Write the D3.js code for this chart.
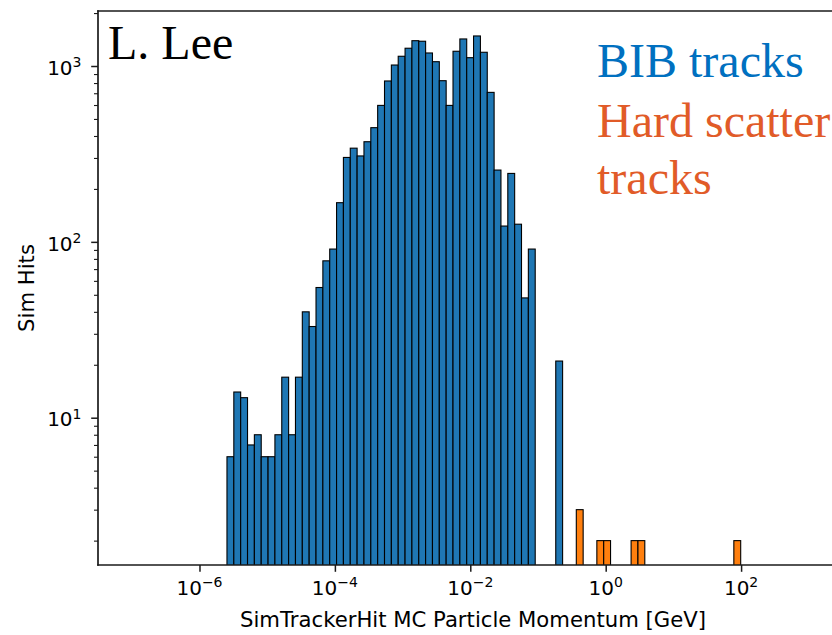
<!DOCTYPE html>
<html>
<head>
<meta charset="utf-8">
<script src="https://cdn.jsdelivr.net/npm/d3@7"></script>
<style>
  html, body { margin: 0; padding: 0; background: #fff; }
  svg { display: block; }
</style>
</head>
<body>
<svg id="chart" width="832" height="635"></svg>
<script>
// Histogram binning: 75 log-spaced bins between these decade exponents
const binLogMin = -5.594;
const binLogMax = 1.994;
const binCount = 75;

// Counts per bin (index 0 = lowest momentum bin)
const bibCounts = [
  6, 14, 13, 7, 8, 6, 6, 8, 17, 8,
  17, 40, 33, 55, 78, 91, 167, 302, 341, 308,
  371, 446, 597, 822, 1013, 1136, 1262, 1393, 1383, 1186,
  1058, 825, 597, 1213, 1425, 1115, 1482, 1197, 708, 256,
  123, 245, 126, 48, 91, 0, 0, 0, 21, 0,
  0, 0, 0, 0, 0, 0, 0, 0, 0, 0,
  0, 0, 0, 0, 0, 0, 0, 0, 0, 0,
  0, 0, 0, 0, 0
];
const hardScatterCounts = [
  0, 0, 0, 0, 0, 0, 0, 0, 0, 0,
  0, 0, 0, 0, 0, 0, 0, 0, 0, 0,
  0, 0, 0, 0, 0, 0, 0, 0, 0, 0,
  0, 0, 0, 0, 0, 0, 0, 0, 0, 0,
  0, 0, 0, 0, 0, 0, 0, 0, 0, 0,
  0, 3, 0, 0, 2, 2, 0, 0, 0, 2,
  2, 0, 0, 0, 0, 0, 0, 0, 0, 0,
  0, 0, 0, 0, 2
];

// Axis ticks (decade exponents) and limits
const xTickExps = [-6, -4, -2, 0, 2];
const yTickExps = [1, 2, 3];
const xLimExp = [-7.499, 3.579];
const yLimExp = [0.1624, 3.3128];

// Titles and annotations
const xAxisTitle = "SimTrackerHit MC Particle Momentum [GeV]";
const yAxisTitle = "Sim Hits";
const authorNote = "L. Lee";
const bibLabel = "BIB tracks";
const hardScatterLines = ["Hard scatter", "tracks"];

const margin = { left: 98, top: 11, right: 848, bottom: 565 };
const svg = d3.select("#chart");

const x = d3.scaleLog()
  .domain([Math.pow(10, xLimExp[0]), Math.pow(10, xLimExp[1])])
  .range([margin.left, margin.right]);
const y = d3.scaleLog()
  .domain([Math.pow(10, yLimExp[0]), Math.pow(10, yLimExp[1])])
  .range([margin.bottom, margin.top]);

const binEdges = d3.range(binCount + 1).map(i =>
  Math.pow(10, binLogMin + (binLogMax - binLogMin) * i / binCount));

svg.append("defs").append("clipPath").attr("id", "plotClip")
  .append("rect")
  .attr("x", margin.left).attr("y", margin.top)
  .attr("width", margin.right - margin.left)
  .attr("height", margin.bottom - margin.top);

const plot = svg.append("g").attr("clip-path", "url(#plotClip)");

function drawSeries(counts, fill) {
  const rows = counts.map((c, i) => ({ c, lo: binEdges[i], hi: binEdges[i + 1] }))
    .filter(d => d.c > 0);
  plot.append("g").selectAll("rect").data(rows).join("rect")
    .attr("x", d => x(d.lo))
    .attr("width", d => x(d.hi) - x(d.lo))
    .attr("y", d => y(d.c))
    .attr("height", d => margin.bottom + 2 - y(d.c))
    .attr("fill", fill)
    .attr("stroke", "#000")
    .attr("stroke-width", 1.1);
}
drawSeries(bibCounts, "#1f77b4");
drawSeries(hardScatterCounts, "#ff7f0e");

const axisColor = "#1a1a1a";
const tickFont = "'DejaVu Sans', sans-serif";
const tickSize = 20;
const titleSize = 21.2;

// Spines (right spine lies outside the visible area)
const spines = svg.append("g").attr("stroke", axisColor).attr("stroke-width", 1.7).attr("fill", "none");
spines.append("line").attr("x1", margin.left).attr("x2", margin.left)
  .attr("y1", margin.top - 0.8).attr("y2", margin.bottom + 0.8);
spines.append("line").attr("x1", margin.left - 0.8).attr("x2", margin.right)
  .attr("y1", margin.bottom).attr("y2", margin.bottom);
spines.append("line").attr("x1", margin.left - 0.8).attr("x2", margin.right)
  .attr("y1", margin.top).attr("y2", margin.top);
spines.append("line").attr("x1", margin.right).attr("x2", margin.right)
  .attr("y1", margin.top).attr("y2", margin.bottom);

// Superscript tick label helper
function powLabel(sel, exp) {
  sel.append("tspan").text("10");
  sel.append("tspan")
    .attr("dy", -7.8)
    .attr("font-size", 14)
    .text(exp < 0 ? "\u2212" + Math.abs(exp) : String(exp));
}

// X axis via d3 axis generator
const xAxis = d3.axisBottom(x)
  .tickValues(xTickExps.map(e => Math.pow(10, e)))
  .tickSize(6.8).tickPadding(0).tickFormat("");
const gx = svg.append("g").attr("transform", `translate(0,${margin.bottom})`).call(xAxis);
gx.select(".domain").remove();
gx.selectAll(".tick line").attr("stroke", axisColor).attr("stroke-width", 1.5);
xTickExps.forEach(e => {
  const t = svg.append("text")
    .attr("x", x(Math.pow(10, e)))
    .attr("y", 594.5)
    .attr("text-anchor", "middle")
    .attr("font-family", tickFont).attr("font-size", tickSize)
    .attr("fill", "#000");
  powLabel(t, e);
});

// Y axis: major decades plus minor 2..9 ticks
const yMinor = [];
d3.range(0, 4).forEach(k => d3.range(2, 10).forEach(m => {
  const v = m * Math.pow(10, k);
  if (v >= y.domain()[0] && v <= y.domain()[1]) yMinor.push(v);
}));
const yAxisMajor = d3.axisLeft(y)
  .tickValues(yTickExps.map(e => Math.pow(10, e)))
  .tickSize(6.8).tickFormat("");
const gy = svg.append("g").attr("transform", `translate(${margin.left},0)`).call(yAxisMajor);
gy.select(".domain").remove();
gy.selectAll(".tick line").attr("stroke", axisColor).attr("stroke-width", 1.5);
const yAxisMinor = d3.axisLeft(y).tickValues(yMinor).tickSize(4).tickFormat("");
const gym = svg.append("g").attr("transform", `translate(${margin.left},0)`).call(yAxisMinor);
gym.select(".domain").remove();
gym.selectAll(".tick line").attr("stroke", axisColor).attr("stroke-width", 1.1);
yTickExps.forEach(e => {
  const t = svg.append("text")
    .attr("x", 81.5)
    .attr("y", y(Math.pow(10, e)) + 8.7)
    .attr("text-anchor", "end")
    .attr("font-family", tickFont).attr("font-size", tickSize)
    .attr("fill", "#000");
  powLabel(t, e);
});

// Axis titles
svg.append("text")
  .attr("x", (margin.left + margin.right) / 2)
  .attr("y", 627)
  .attr("text-anchor", "middle")
  .attr("font-family", tickFont).attr("font-size", titleSize)
  .text(xAxisTitle);
svg.append("text")
  .attr("transform", `translate(34,${(margin.top + margin.bottom) / 2}) rotate(-90)`)
  .attr("text-anchor", "middle")
  .attr("font-family", tickFont).attr("font-size", titleSize)
  .text(yAxisTitle);

// Annotations
const serif = "'Liberation Serif', 'Times New Roman', serif";
svg.append("text").attr("x", 108).attr("y", 59.3)
  .attr("font-family", serif).attr("font-size", 48).attr("fill", "#000")
  .text(authorNote);
svg.append("text").attr("x", 597).attr("y", 76.7)
  .attr("font-family", serif).attr("font-size", 48).attr("fill", "#0070C0")
  .text(bibLabel);
hardScatterLines.forEach((line, i) => {
  svg.append("text").attr("x", 597).attr("y", 136.7 + i * 57)
    .attr("font-family", serif).attr("font-size", 48).attr("fill", "#E15B28")
    .text(line);
});
</script>
</body>
</html>
